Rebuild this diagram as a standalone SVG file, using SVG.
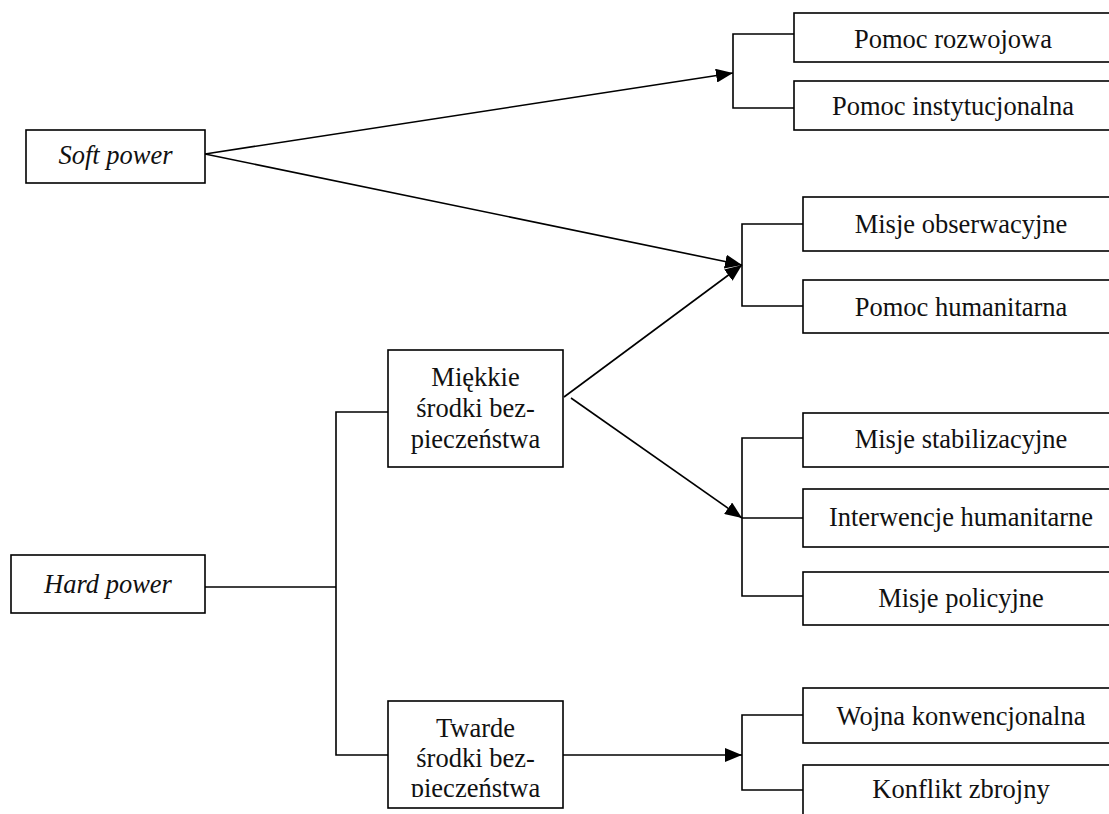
<svg xmlns="http://www.w3.org/2000/svg" width="1109" height="814" viewBox="0 0 1109 814">
<style>
.box{fill:#fff;stroke:#000;stroke-width:1.6}
.t{font-family:"Liberation Serif","Times New Roman",serif;font-size:26.5px;fill:#111;text-anchor:middle}
.i{font-style:italic}
.c{fill:none;stroke:#000;stroke-width:1.6}
</style>
<defs>
<marker id="ah" markerUnits="userSpaceOnUse" markerWidth="18" markerHeight="14" refX="17" refY="7" orient="auto">
<path d="M0,0 L17,7 L0,14 Z" fill="#000"/>
</marker>
<clipPath id="clipTw"><rect x="388" y="701" width="175" height="96"/></clipPath>
</defs>
<rect width="1109" height="814" fill="#fff"/>
<g id="connectors">
<line class="c" x1="205" y1="154" x2="733" y2="73" marker-end="url(#ah)"/>
<line class="c" x1="205" y1="154" x2="742" y2="265" marker-end="url(#ah)"/>
<line class="c" x1="564" y1="397" x2="742" y2="265" marker-end="url(#ah)"/>
<line class="c" x1="571" y1="398" x2="742" y2="518" marker-end="url(#ah)"/>
<line class="c" x1="563" y1="755" x2="742" y2="755" marker-end="url(#ah)"/>
<polyline class="c" points="794,34 733,34 733,108 794,108"/>
<polyline class="c" points="803,224 742,224 742,306 803,306"/>
<polyline class="c" points="803,438 742,438 742,596 803,596"/>
<line class="c" x1="742" y1="518" x2="803" y2="518"/>
<polyline class="c" points="803,715 742,715 742,790 803,790"/>
<polyline class="c" points="388,412 336,412 336,755 388,755"/>
<line class="c" x1="205" y1="587" x2="336" y2="587"/>
</g>
<g id="soft-power"><rect class="box" x="26" y="130" width="179" height="53"/><text class="t i" x="115.5" y="164">Soft power</text></g>
<g id="hard-power"><rect class="box" x="11" y="555" width="194" height="58"/><text class="t i" x="108" y="593">Hard power</text></g>
<g id="miekkie"><rect class="box" x="388" y="350" width="175" height="117"/>
<text class="t" x="475.5" y="386">Miękkie</text><text class="t" x="475.5" y="417">środki bez-</text><text class="t" x="475.5" y="448">pieczeństwa</text></g>
<g id="twarde"><rect class="box" x="388" y="701" width="175" height="107"/>
<g clip-path="url(#clipTw)"><text class="t" x="475.5" y="737">Twarde</text><text class="t" x="475.5" y="767">środki bez-</text><text class="t" x="475.5" y="797">pieczeństwa</text></g></g>
<g id="pomoc-rozwojowa"><rect class="box" x="794" y="13" width="320" height="49"/><text class="t" x="953" y="48">Pomoc rozwojowa</text></g>
<g id="pomoc-instytucjonalna"><rect class="box" x="794" y="81" width="320" height="49"/><text class="t" x="953" y="115">Pomoc instytucjonalna</text></g>
<g id="misje-obserwacyjne"><rect class="box" x="803" y="197" width="320" height="54"/><text class="t" x="961" y="233">Misje obserwacyjne</text></g>
<g id="pomoc-humanitarna"><rect class="box" x="803" y="280" width="320" height="53"/><text class="t" x="961" y="316">Pomoc humanitarna</text></g>
<g id="misje-stabilizacyjne"><rect class="box" x="803" y="413" width="320" height="54"/><text class="t" x="961" y="448">Misje stabilizacyjne</text></g>
<g id="interwencje-humanitarne"><rect class="box" x="803" y="489" width="320" height="58"/><text class="t" x="961" y="526">Interwencje humanitarne</text></g>
<g id="misje-policyjne"><rect class="box" x="803" y="572" width="320" height="53"/><text class="t" x="961" y="607">Misje policyjne</text></g>
<g id="wojna-konwencjonalna"><rect class="box" x="803" y="688" width="320" height="55"/><text class="t" x="961" y="725">Wojna konwencjonalna</text></g>
<g id="konflikt-zbrojny"><rect class="box" x="803" y="765" width="320" height="60"/><text class="t" x="961" y="798">Konflikt zbrojny</text></g>
</svg>
